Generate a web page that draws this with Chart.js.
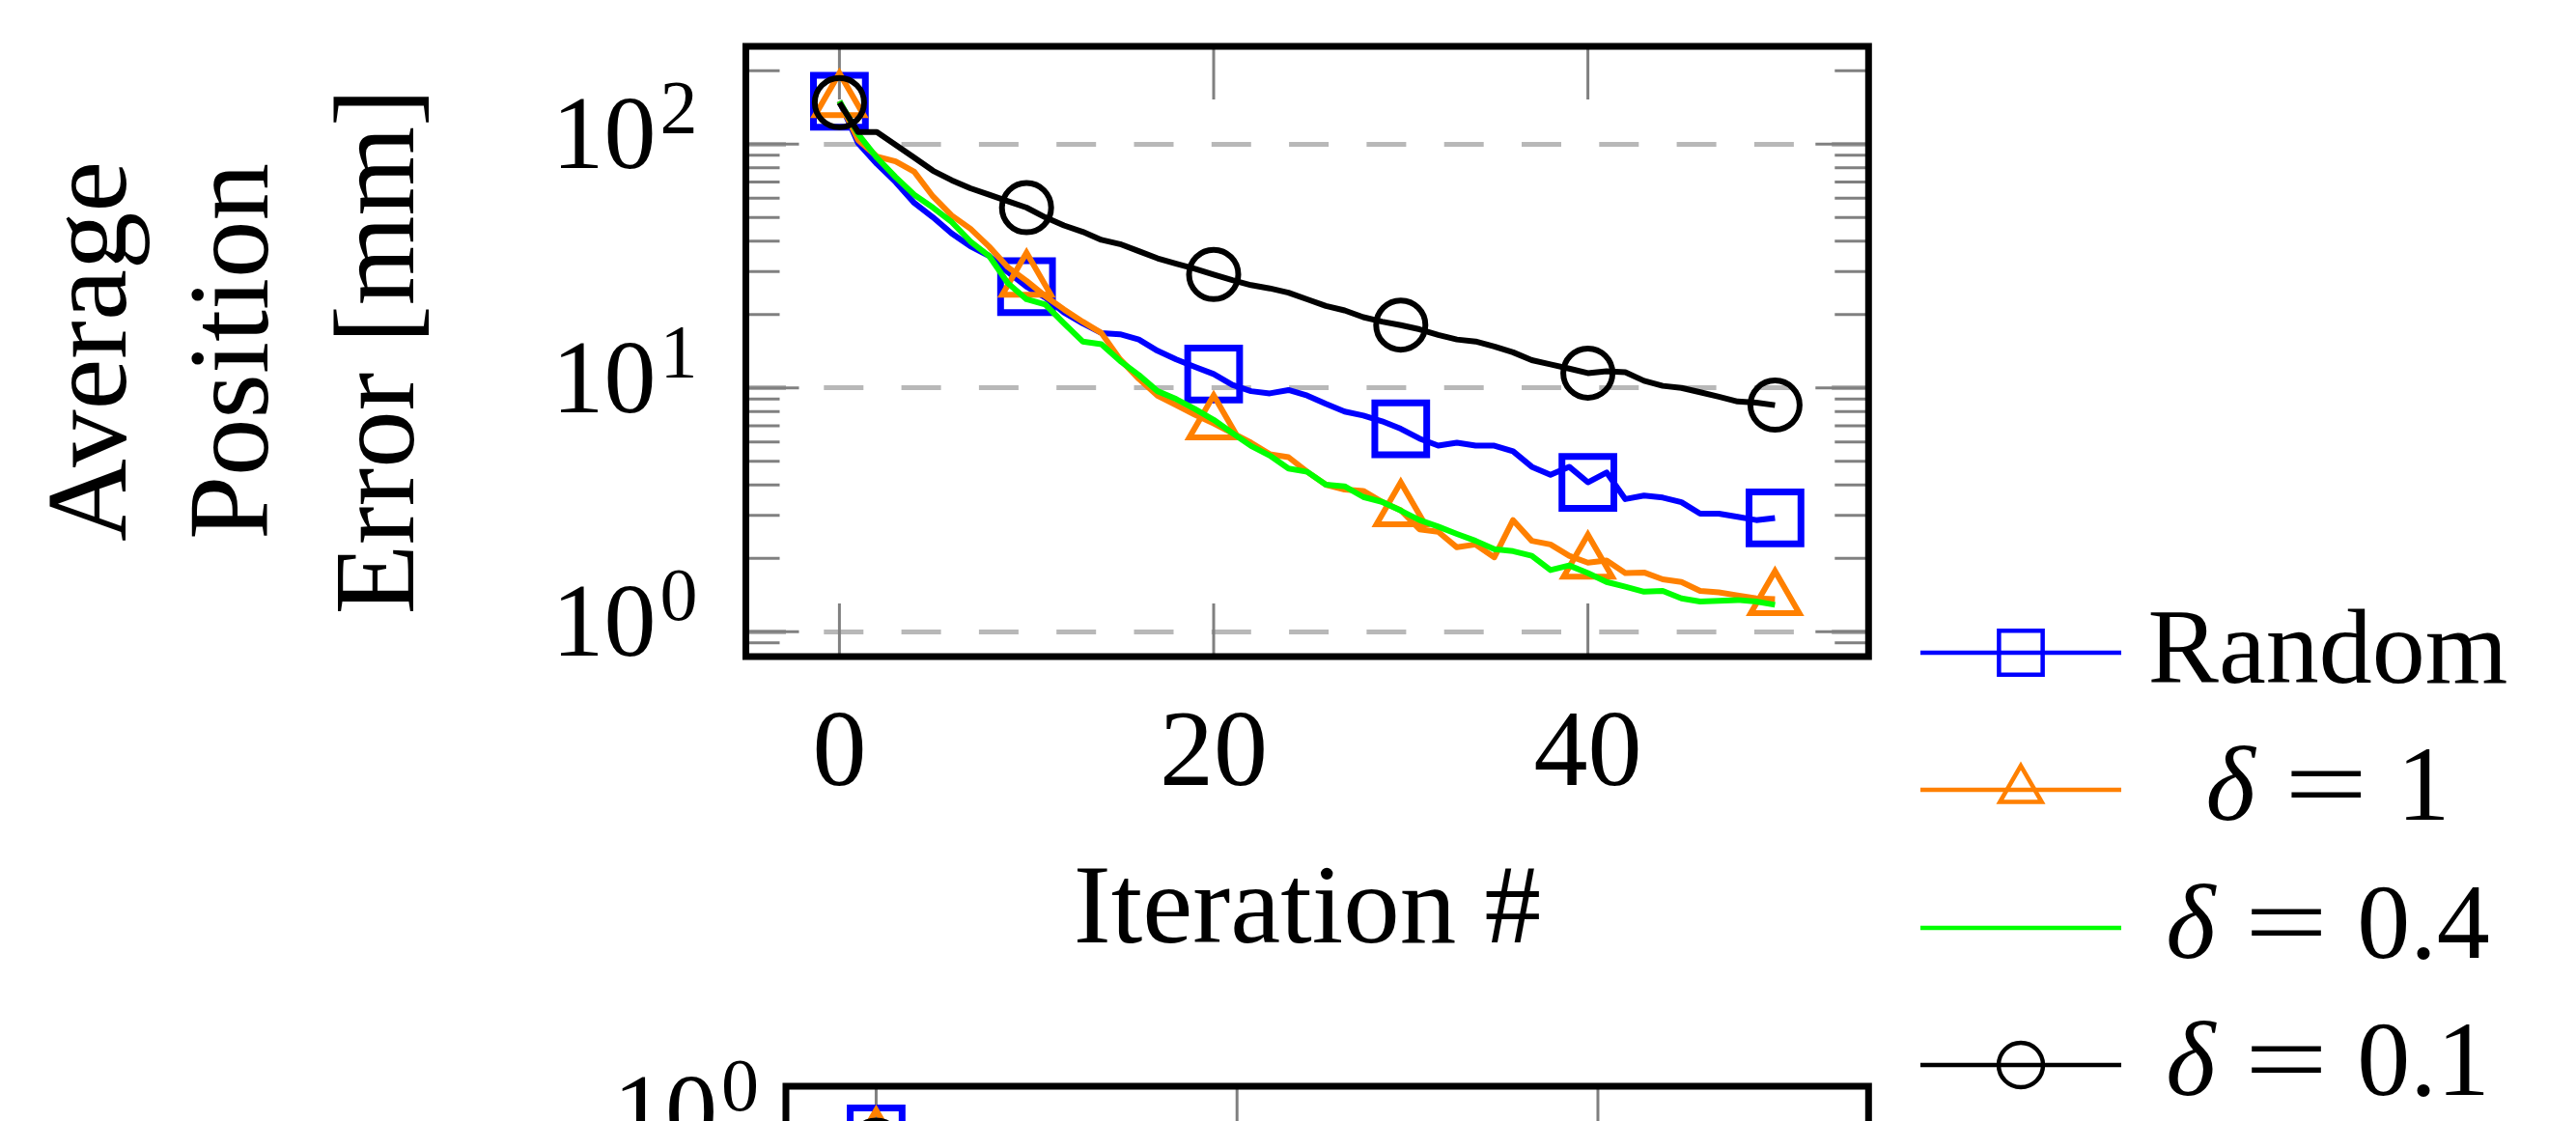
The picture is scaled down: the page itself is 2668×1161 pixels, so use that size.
<!DOCTYPE html>
<html>
<head>
<meta charset="utf-8">
<title>Average Position Error</title>
<script src="https://cdn.jsdelivr.net/npm/chart.js@4.4.1/dist/chart.umd.min.js"></script>
<style>
  html, body { margin: 0; padding: 0; background: #fff; }
  body { width: 2668px; height: 1161px; overflow: hidden; position: relative; }
  canvas { position: absolute; left: 0; }
  #errChart { top: 0; }
  #nextChart { top: 1080px; }
</style>
</head>
<body>
<canvas id="nextChart" width="2668" height="700"></canvas>
<canvas id="errChart" width="2668" height="1161"></canvas>
<script>
// ---- data ----
const iterations = [0, 1, 2, 3, 4, 5, 6, 7, 8, 9, 10, 11, 12, 13, 14, 15, 16, 17, 18, 19, 20,
  21, 22, 23, 24, 25, 26, 27, 28, 29, 30, 31, 32, 33, 34, 35, 36, 37, 38, 39, 40,
  41, 42, 43, 44, 45, 46, 47, 48, 49, 50];

const randomErr = [150, 101, 83, 70, 57.4, 50.1, 43, 38.1, 34.8, 29.9, 26,
  23.5, 20.4, 18.4, 16.8, 16.6, 15.8, 14.2, 13.1, 12.2, 11.4,
  10.3, 9.7, 9.5, 9.8, 9.3, 8.6, 8.0, 7.7, 7.3, 6.8,
  6.2, 5.8, 5.96, 5.8, 5.8, 5.5, 4.75, 4.4, 4.75, 4.1,
  4.5, 3.5, 3.62, 3.55, 3.4, 3.05, 3.05, 2.96, 2.87, 2.93];

const delta1Err = [150, 104, 89, 85, 77, 61, 51, 45, 38, 31.3, 27.5,
  23.8, 21, 18.7, 16.8, 13.1, 10.9, 9.3, 8.5, 7.76, 7.15,
  6.53, 5.96, 5.35, 5.2, 4.53, 4.01, 3.83, 3.78, 3.41, 3.15,
  2.63, 2.57, 2.22, 2.28, 2.02, 2.87, 2.36, 2.28, 2.05, 1.92,
  1.96, 1.74, 1.75, 1.64, 1.6, 1.47, 1.45, 1.41, 1.37, 1.36];

const delta04Err = [150, 110, 88, 73.3, 62, 54.9, 47.9, 39.9, 34.8, 26.9, 23.1,
  22, 18.4, 15.5, 15.1, 12.9, 11.3, 9.7, 9.0, 8.2, 7.4,
  6.53, 5.78, 5.28, 4.67, 4.53, 4.01, 3.95, 3.57, 3.41, 3.14,
  2.87, 2.7, 2.52, 2.36, 2.18, 2.14, 2.05, 1.79, 1.87, 1.74,
  1.6, 1.53, 1.46, 1.47, 1.37, 1.33, 1.34, 1.35, 1.33, 1.29];

const delta01Err = [148, 112, 112, 99.4, 88, 77.8, 71.1, 65.9, 62, 58.3, 54.9,
  50.1, 46.4, 43.7, 40.5, 38.9, 36.4, 34, 32.3, 30.8, 29.2,
  27.7, 26.4, 25.6, 24.6, 23.1, 21.7, 20.8, 19.5, 18.7, 18.1,
  17.4, 16.5, 15.8, 15.5, 14.8, 14, 13, 12.5, 12, 11.5,
  11.7, 11.6, 10.7, 10.2, 10, 9.6, 9.2, 8.8, 8.7, 8.5];

const seriesNames = ["Random", "δ = 1", "δ = 0.4", "δ = 0.1"];
const xTicks = [0, 20, 40];
const yTicks = [1, 10, 100];
const yExponents = ["0", "1", "2"];
const xTitle = "Iteration #";
const yTitleLines = ["Average", "Position", "Error [mm]"];

// the panel below: only its top edge is in view
const nextIterations = [0];
const nextRandom = [0.96];
const nextDelta1 = [0.92];
const nextDelta04 = [0.9];
const nextDelta01 = [0.86];
const nextYTicks = [0.01, 0.1, 1];
const nextYExponents = ["−2", "−1", "0"];

// ---- styles ----
const SERIF = '"Liberation Serif", "Times New Roman", serif';
const styles = [
  { color: "#0000ff", point: "rect", r: 38, bw: 7, lr: 32, lbw: 4.5 },
  { color: "#ff8000", point: "triangle", r: 29, bw: 6, lr: 25, lbw: 4.5 },
  { color: "#00ff00", point: null, r: 0, bw: 0, lr: 0, lbw: 0 },
  { color: "#000000", point: "circle", r: 25.5, bw: 6, lr: 23, lbw: 4.5 }
];

function makeDatasets(xs, series) {
  return series.map((ys, k) => {
    const s = styles[k];
    return {
      label: seriesNames[k],
      data: xs.map((x, i) => ({ x: x, y: ys[i] })),
      borderColor: s.color,
      borderWidth: 6,
      borderJoinStyle: "round",
      tension: 0,
      fill: false,
      pointStyle: s.point || "circle",
      pointRadius: ctx => (s.point && xs[ctx.dataIndex] % 10 === 0) ? s.r : 0,
      pointHoverRadius: 0,
      pointBorderWidth: s.bw,
      pointBorderColor: s.color,
      pointBackgroundColor: "rgba(0,0,0,0)",
      order: series.length - k
    };
  });
}

// draws 10^k with a real superscript
function drawPower(ctx, xRight, yGrid, exp) {
  ctx.fillStyle = "#000";
  ctx.textAlign = "left";
  ctx.textBaseline = "alphabetic";
  ctx.font = "108px " + SERIF;
  const wBase = ctx.measureText("10").width;
  ctx.font = "78px " + SERIF;
  const wExp = ctx.measureText(exp).width;
  const x0 = xRight - wExp - 4 - wBase;
  ctx.font = "108px " + SERIF;
  ctx.fillText("10", x0, yGrid + 25);
  ctx.font = "78px " + SERIF;
  ctx.fillText(exp, x0 + wBase + 4, yGrid - 12);
}

// pgfplots-like box axes, inner ticks, labels and legend
function makeFrame(cfg) {
  return {
    id: "pgfFrame",
    beforeDatasetsDraw(chart) {
      const { ctx, chartArea: a, scales: { x, y } } = chart;
      ctx.save();
      ctx.strokeStyle = "#808080";
      ctx.lineWidth = 3;
      const seg = (x1, y1, x2, y2) => { ctx.beginPath(); ctx.moveTo(x1, y1); ctx.lineTo(x2, y2); ctx.stroke(); };
      const lo = Math.floor(Math.log10(y.min)), hi = Math.ceil(Math.log10(y.max));
      for (let e = lo; e <= hi; e++) {
        for (let m = 1; m <= 9; m++) {
          const v = m * Math.pow(10, e);
          if (v < y.min || v > y.max) continue;
          const py = y.getPixelForValue(v);
          const len = m === 1 ? 55 : 35;
          seg(a.left, py, a.left + len, py);
          seg(a.right - len, py, a.right, py);
        }
      }
      xTicks.forEach(v => {
        const px = x.getPixelForValue(v);
        seg(px, a.top, px, a.top + 55);
        seg(px, a.bottom - 55, px, a.bottom);
      });
      ctx.restore();
    },
    afterDatasetsDraw(chart) {
      const { ctx, chartArea: a } = chart;
      ctx.save();
      ctx.strokeStyle = "#000";
      ctx.lineWidth = 7;
      ctx.strokeRect(a.left, a.top, a.right - a.left, a.bottom - a.top);
      ctx.restore();
    },
    afterDraw(chart) {
      const { ctx, chartArea: a, scales: { x, y } } = chart;
      ctx.save();
      cfg.yTicks.forEach((v, i) => drawPower(ctx, a.left - cfg.labelGap, y.getPixelForValue(v) + cfg.labelDy, cfg.yExponents[i]));

      if (cfg.showX) {
        ctx.fillStyle = "#000";
        ctx.textAlign = "center";
        ctx.textBaseline = "alphabetic";
        ctx.font = "112px " + SERIF;
        xTicks.forEach(v => ctx.fillText(String(v), x.getPixelForValue(v), a.bottom + 133));
        ctx.font = "117px " + SERIF;
        ctx.fillText(xTitle, (a.left + a.right) / 2, a.bottom + 296);
      }

      if (cfg.yTitle) {
        ctx.font = "119px " + SERIF;
        ctx.textAlign = "center";
        const cy = (a.top + a.bottom) / 2;
        cfg.yTitle.forEach((t, i) => {
          ctx.save();
          ctx.translate(cfg.yTitleX[i], cy);
          ctx.rotate(-Math.PI / 2);
          ctx.fillText(t, 0, 0);
          ctx.restore();
        });
      }

      if (cfg.legend) {
        const L = cfg.legend;
        seriesNames.forEach((name, k) => {
          const s = styles[k];
          const ly = L.rows[k];
          ctx.strokeStyle = s.color;
          ctx.lineWidth = 4.5;
          ctx.beginPath(); ctx.moveTo(L.x1, ly); ctx.lineTo(L.x2, ly); ctx.stroke();
          if (s.point) {
            ctx.fillStyle = "rgba(0,0,0,0)";
            ctx.lineWidth = s.lbw;
            Chart.helpers.drawPoint(ctx, { pointStyle: s.point, radius: s.lr, borderWidth: s.lbw, rotation: 0 }, (L.x1 + L.x2) / 2, ly);
          }
          // label, centred; math labels get an italic delta and a wide "="
          ctx.fillStyle = "#000";
          ctx.textAlign = "left";
          ctx.textBaseline = "alphabetic";
          const normal = "110px " + SERIF, ital = "italic 110px " + SERIF;
          const by = ly + 31;
          if (name.startsWith("δ")) {
            const num = name.split("=")[1].trim();
            const eqScale = 1.4, gap = 30;
            ctx.font = ital; const wd = ctx.measureText("δ").width;
            ctx.font = normal;
            const we = ctx.measureText("=").width * eqScale;
            const wn = ctx.measureText(num).width;
            let tx = L.textCenter - (wd + gap + we + gap + wn) / 2;
            ctx.font = ital; ctx.fillText("δ", tx, by); tx += wd + gap;
            ctx.font = normal;
            ctx.save(); ctx.translate(tx, by); ctx.scale(eqScale, 1); ctx.fillText("=", 0, 0); ctx.restore();
            tx += we + gap;
            ctx.fillText(num, tx, by);
          } else {
            ctx.font = normal;
            ctx.textAlign = "center";
            ctx.fillText(name, L.textCenter, by);
          }
        });
      }
      ctx.restore();
    }
  };
}

function makeChart(id, p) {
  const yt = p.yTicks;
  return new Chart(document.getElementById(id), {
    type: "line",
    data: { datasets: makeDatasets(p.xs, p.series) },
    plugins: [makeFrame(p.frame)],
    options: {
      responsive: false,
      animation: false,
      devicePixelRatio: 1,
      events: [],
      layout: { padding: p.padding },
      plugins: { legend: { display: false }, tooltip: { enabled: false } },
      scales: {
        x: {
          type: "linear", min: -5, max: 55,
          afterBuildTicks: s => { s.ticks = xTicks.map(v => ({ value: v })); },
          afterFit: s => { s.height = 0; },
          ticks: { display: false },
          grid: { display: false, drawTicks: false },
          border: { display: false }
        },
        y: {
          type: "logarithmic", min: p.yMin, max: p.yMax,
          afterBuildTicks: s => { s.ticks = yt.map(v => ({ value: v })); },
          afterFit: s => { s.width = 0; },
          ticks: { display: false },
          grid: { color: "#b8b8b8", lineWidth: 5, drawTicks: false },
          border: { display: false, dash: [41, 39.3] }
        }
      }
    }
  });
}

makeChart("nextChart", {
  xs: nextIterations,
  series: [nextRandom, nextDelta1, nextDelta04, nextDelta01],
  yTicks: nextYTicks,
  yMin: 0.0048, yMax: 1.53,
  padding: { left: 814, right: 2668 - 1935.3, top: 33.5, bottom: 34.5 },
  frame: { yTicks: nextYTicks, yExponents: nextYExponents, showX: false, labelGap: 28, labelDy: -8 }
});

makeChart("errChart", {
  xs: iterations,
  series: [randomErr, delta1Err, delta04Err, delta01Err],
  yTicks: yTicks,
  yMin: 0.791, yMax: 251.8,
  padding: { left: 772.5, right: 2668 - 1935.3, top: 48, bottom: 1161 - 680 },
  frame: {
    yTicks: yTicks, yExponents: yExponents, showX: true, labelGap: 50, labelDy: 0,
    yTitle: yTitleLines, yTitleX: [130, 277, 428],
    legend: { rows: [676, 818, 961, 1103], x1: 1989, x2: 2197, textCenter: 2411 }
  }
});
</script>
</body>
</html>
